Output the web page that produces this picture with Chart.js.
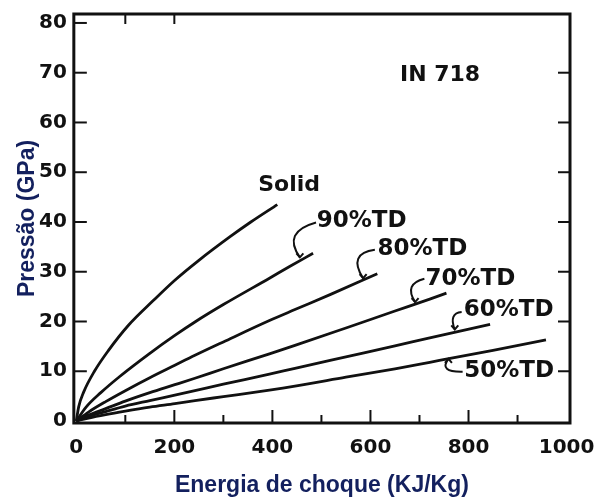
<!DOCTYPE html>
<html>
<head>
<meta charset="utf-8">
<script src="https://cdn.jsdelivr.net/npm/chart.js@4"></script>
<style>
html,body{margin:0;padding:0;background:#fff;}
#wrap{width:601px;height:500px;}
</style>
</head>
<body>
<div id="wrap"><canvas id="c" width="601" height="500"></canvas></div>
<script>
// ---- data ----
const seriesNames = ['Solid', '90%TD', '80%TD', '70%TD', '60%TD', '50%TD'];
const solidE = [0, 5, 15, 37, 65, 106, 157, 201, 250, 313, 356, 410];
const solidP = [0, 2.9, 5.8, 10, 14.1, 19.2, 24.2, 28.3, 32.3, 37, 40, 43.5];
const td90E = [0, 20, 50, 88, 150, 201, 242, 300, 394, 436, 483];
const td90P = [0, 2.8, 5.7, 8.9, 13.6, 17.2, 19.9, 23.4, 28.7, 31.1, 33.7];
const td80E = [0, 25, 60, 100, 150, 201, 242, 300, 394, 446, 520, 614];
const td80P = [0, 1.8, 3.9, 6.1, 8.7, 11.2, 13.2, 15.9, 20.2, 22.4, 25.5, 29.6];
const td70E = [0, 25, 60, 100, 150, 201, 242, 300, 394, 446, 550, 650, 721, 755];
const td70P = [0, 1.2, 2.5, 4, 5.7, 7.3, 8.6, 10.5, 13.5, 15.2, 18.7, 22.1, 24.5, 25.7];
const td60E = [0, 25, 60, 100, 150, 201, 242, 300, 394, 446, 550, 650, 721, 844];
const td60P = [0, 0.9, 1.9, 3, 4.1, 5.2, 6.1, 7.4, 9.4, 10.6, 12.9, 15.1, 16.7, 19.4];
const td50E = [0, 25, 60, 100, 150, 201, 242, 300, 394, 446, 550, 650, 721, 850, 958];
const td50P = [0, 0.6, 1.3, 2, 2.8, 3.5, 4.1, 4.9, 6.2, 7.0, 8.8, 10.5, 11.8, 14.2, 16.3];
const xTickLabels = [0, 200, 400, 600, 800, 1000];
const yTickLabels = [0, 10, 20, 30, 40, 50, 60, 70, 80];
const xTitle = 'Energia de choque (KJ/Kg)';
const yTitle = 'Pressão (GPa)';
const chartNote = 'IN 718';

// ---- annotation placement (data units) ----
const labelSpots = [
  {text: 'Solid', x: 434, y: 47.4, size: 22},
  {text: '90%TD', x: 582, y: 40.1, size: 23},
  {text: '80%TD', x: 706, y: 34.6, size: 23},
  {text: '70%TD', x: 804, y: 28.6, size: 23},
  {text: '60%TD', x: 882, y: 22.3, size: 23},
  {text: '50%TD', x: 883, y: 10.1, size: 23},
  {text: chartNote, x: 742, y: 69.4, size: 22}
];
const hooks = [
  {s: [489, 39.9], m: [446, 37.2], t: [456, 32.9], dir: 1},
  {s: [609, 34.4], m: [575, 32.6], t: [585, 28.7], dir: 1},
  {s: [710, 28.6], m: [684, 26.9], t: [691, 23.9], dir: 1},
  {s: [786, 21.9], m: [769, 20.9], t: [772, 18.4], dir: 1},
  {s: [788, 9.9], m: [756, 10.5], t: [759, 12.5], dir: -1}
];

const pairs = [[solidE, solidP], [td90E, td90P], [td80E, td80P], [td70E, td70P], [td60E, td60P], [td50E, td50P]];
const datasets = pairs.map((p, i) => ({
  label: seriesNames[i],
  data: p[0].map((e, k) => ({x: e, y: p[1][k]})),
  showLine: true,
  borderColor: '#111',
  borderWidth: 2.8,
  pointRadius: 0,
  cubicInterpolationMode: 'monotone',
  fill: false
}));

const INK = '#111';
const frameTicks = {
  id: 'frameTicks',
  afterDatasetsDraw(chart) {
    const {ctx, chartArea: a, scales: {x, y}} = chart;
    ctx.save();
    ctx.strokeStyle = INK;
    ctx.lineCap = 'butt';
    ctx.lineWidth = 2;
    const seg = (x1, y1, x2, y2) => { ctx.beginPath(); ctx.moveTo(x1, y1); ctx.lineTo(x2, y2); ctx.stroke(); };
    for (let v = 100; v < 1000; v += 100) {
      const px = x.getPixelForValue(v);
      seg(px, a.bottom, px, a.bottom - (v % 200 === 0 ? 13 : 8));
    }
    [100, 200].forEach(v => { const px = x.getPixelForValue(v); seg(px, a.top, px, a.top + 10); });
    for (let v = 10; v <= 80; v += 10) {
      const py = y.getPixelForValue(v);
      seg(a.left, py, a.left + 13, py);
      if (v <= 70) seg(a.right, py, a.right - 12, py);
    }
    ctx.lineWidth = 3;
    ctx.strokeRect(a.left, a.top, a.right - a.left, a.bottom - a.top);
    // labels
    ctx.fillStyle = INK;
    ctx.textAlign = 'center';
    ctx.textBaseline = 'middle';
    labelSpots.forEach(l => {
      ctx.font = 'bold ' + l.size + 'px "DejaVu Sans"';
      ctx.fillText(l.text, x.getPixelForValue(l.x), y.getPixelForValue(l.y));
    });
    // hooks
    ctx.lineWidth = 2;
    hooks.forEach(h => {
      const S = [x.getPixelForValue(h.s[0]), y.getPixelForValue(h.s[1])];
      const M = [x.getPixelForValue(h.m[0]), y.getPixelForValue(h.m[1])];
      const T = [x.getPixelForValue(h.t[0]), y.getPixelForValue(h.t[1])];
      const C = [2 * M[0] - (S[0] + T[0]) / 2, 2 * M[1] - (S[1] + T[1]) / 2];
      ctx.beginPath();
      ctx.moveTo(S[0], S[1]);
      ctx.quadraticCurveTo(C[0], C[1], T[0], T[1]);
      ctx.stroke();
      ctx.beginPath();
      ctx.moveTo(T[0] - 3.5, T[1] - 4 * h.dir);
      ctx.lineTo(T[0], T[1]);
      ctx.lineTo(T[0] + 3.5, T[1] - 4 * h.dir);
      ctx.stroke();
    });
    ctx.restore();
  }
};

const tickFont = {family: '"DejaVu Sans"', size: 20, weight: 'bold'};
const titleFont = {family: '"Liberation Sans", Arial', size: 23, weight: 'bold', lineHeight: 1};

new Chart(document.getElementById('c'), {
  type: 'scatter',
  data: {datasets},
  plugins: [frameTicks],
  options: {
    responsive: false,
    animation: false,
    layout: {padding: {left: 16, right: 31, top: 14, bottom: 3}},
    plugins: {legend: {display: false}, tooltip: {enabled: false}},
    scales: {
      x: {
        type: 'linear', min: -5, max: 1007,
        afterBuildTicks: s => { s.ticks = xTickLabels.map(v => ({value: v})); },
        grid: {display: false, drawTicks: true, tickLength: 13},
        border: {display: false},
        ticks: {color: INK, font: tickFont, padding: 0, maxRotation: 0, autoSkip: false, callback: v => String(v)},
        title: {display: true, text: xTitle, color: '#13205e', font: titleFont, padding: {top: 14, bottom: 0}}
      },
      y: {
        type: 'linear', min: -0.4, max: 81.8,
        afterBuildTicks: s => { s.ticks = yTickLabels.map(v => ({value: v})); },
        grid: {display: false, drawTicks: true, tickLength: 7},
        border: {display: false},
        ticks: {color: INK, font: tickFont, padding: 0, autoSkip: false, callback: v => String(v)},
        title: {display: true, text: yTitle, color: '#13205e', font: titleFont, padding: {top: 0, bottom: 0}}
      }
    }
  }
});
</script>
</body>
</html>
